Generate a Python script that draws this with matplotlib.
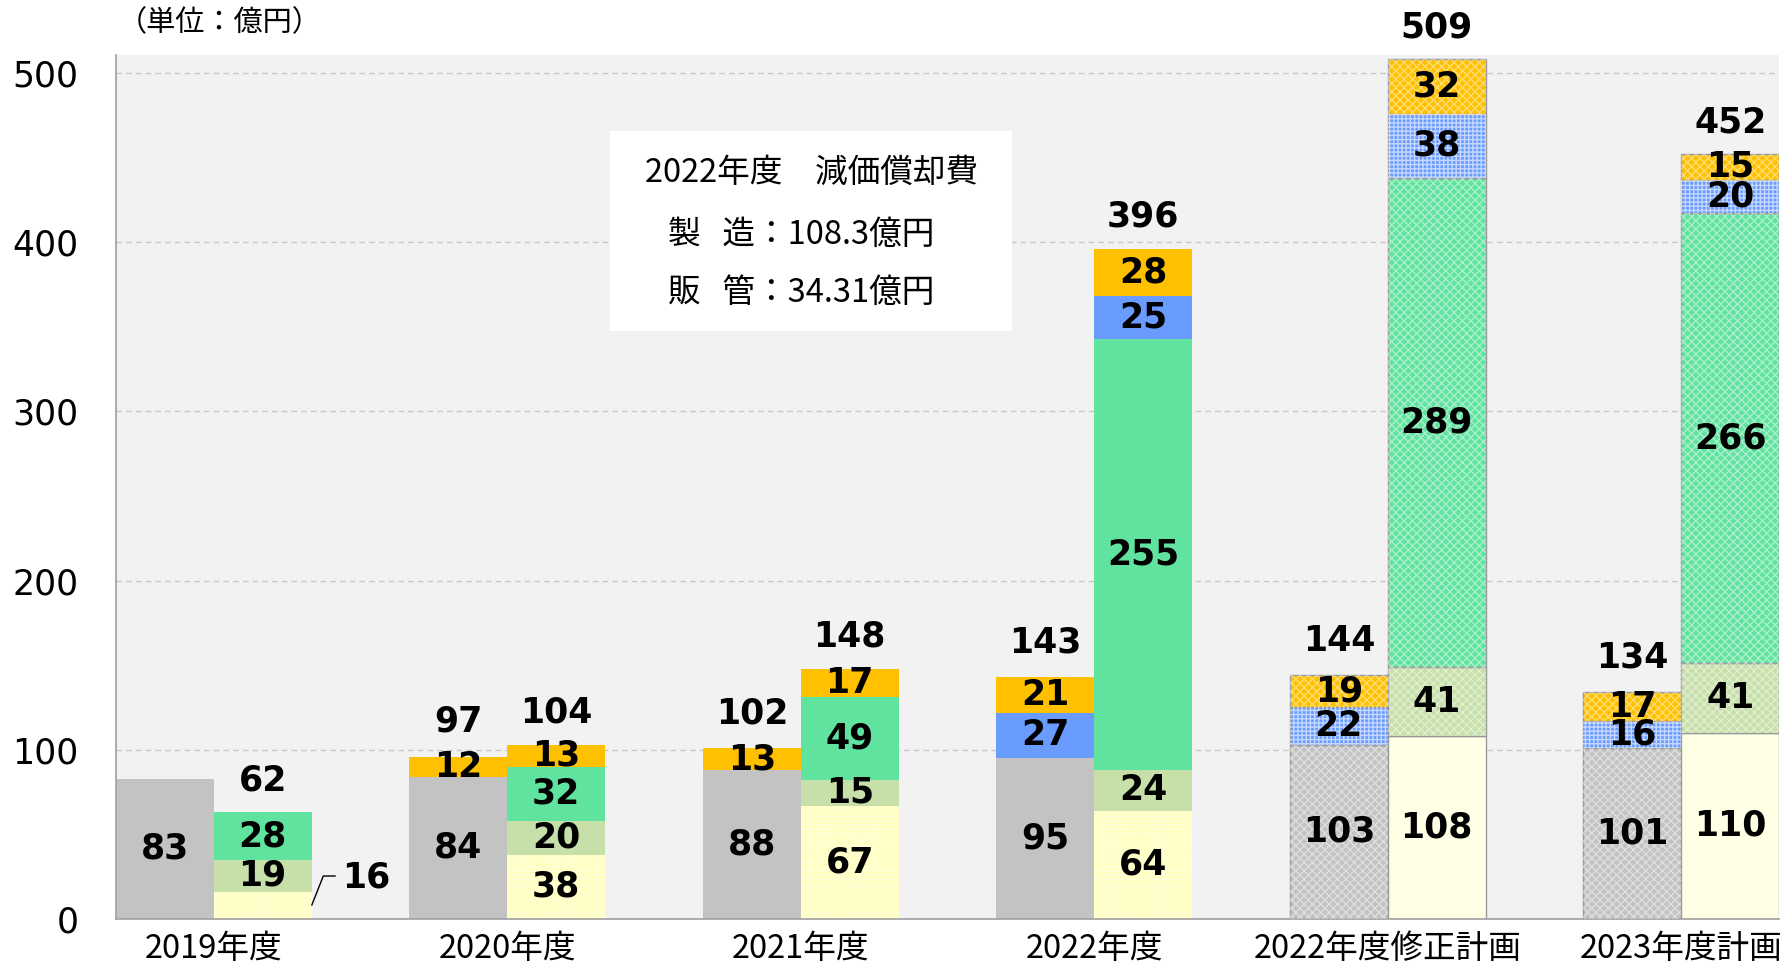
import matplotlib
matplotlib.use("Agg")
import matplotlib.pyplot as plt
from matplotlib.patches import Rectangle
import numpy as np

plt.rcParams['font.family'] = ['DejaVu Sans', 'Noto Sans CJK JP']
plt.rcParams['hatch.linewidth'] = 1.0

# Data (億円)
years = ['2019年度', '2020年度', '2021年度', '2022年度', '2022年度修正計画', '2023年度計画']
is_plan = [False, False, False, False, True, True]

# left bar
left_gray = [83, 84, 88, 95, 103, 101]
left_blue = [0, 0, 0, 27, 22, 16]
left_orange = [0, 12, 13, 21, 19, 17]
left_total = [None, 97, 102, 143, 144, 134]

# right bar
right_yellow = [16, 38, 67, 64, 108, 110]
right_lgreen = [19, 20, 15, 24, 41, 41]
right_green = [28, 32, 49, 255, 289, 266]
right_blue = [0, 0, 0, 25, 38, 20]
right_orange = [0, 13, 17, 28, 32, 15]
right_total = [62, 104, 148, 396, 509, 452]

box_lines = ['2022年度　減価償却費', '製   造：108.3億円', '販   管：34.31億円']

GRAY = '#c3c3c3'
BLUE = '#6a9cff'
ORANGE = '#ffc000'
GREEN = '#61e3a0'
LGREEN = '#c7e0a9'
YELLOW = '#ffffc2'
YELLOW_PLAN = '#ffffe6'

W = 1 / 3
x = np.arange(len(years))

fig = plt.figure(figsize=(17.9, 9.63), dpi=100)
ax = fig.add_axes([0.0648, 0.0457, 0.9291, 0.8972])
ax.set_facecolor('#f2f2f2')


def draw_stack(xpos, series, skip_label=()):
    bottom = np.zeros(len(xpos))
    for k, (vals, color) in enumerate(series):
        vals = np.array(vals, dtype=float)
        for i in range(len(xpos)):
            v = vals[i]
            if v <= 0:
                continue
            fc = color
            if color == YELLOW and is_plan[i]:
                fc = YELLOW_PLAN
            ax.bar(xpos[i], v, W, bottom=bottom[i], color=fc,
                   edgecolor='#9a9a9a' if is_plan[i] else 'none',
                   linewidth=1.0 if is_plan[i] else 0, zorder=2)
            # texture
            hatch = None
            alpha = 0.45
            if color == BLUE and is_plan[i]:
                hatch = '++++'
                alpha = 0.6
            elif color == YELLOW and not is_plan[i]:
                hatch = '....'
                alpha = 0.6
            elif is_plan[i] and color != YELLOW:
                hatch = 'xxxx'
            if hatch:
                ax.bar(xpos[i], v, W, bottom=bottom[i], facecolor='none',
                       edgecolor=(1, 1, 1, alpha), linewidth=0, hatch=hatch, zorder=3)
            if (k, i) not in skip_label:
                ax.text(xpos[i], bottom[i] + v / 2, f'{int(v)}', ha='center', va='center',
                        fontsize=25, fontweight='bold', zorder=6)
        bottom += vals
    return bottom


lx = x - W / 2
rx = x + W / 2
ltop = draw_stack(lx, [(left_gray, GRAY), (left_blue, BLUE), (left_orange, ORANGE)])
rtop = draw_stack(rx, [(right_yellow, YELLOW), (right_lgreen, LGREEN), (right_green, GREEN),
                       (right_blue, BLUE), (right_orange, ORANGE)], skip_label=[(0, 0)])

for i in range(len(x)):
    if left_total[i] is not None:
        ax.annotate(f'{left_total[i]}', (lx[i], ltop[i]), xytext=(0, 25), textcoords='offset points',
                    ha='center', va='center', fontsize=25, fontweight='bold', annotation_clip=False)
    ax.annotate(f'{right_total[i]}', (rx[i], rtop[i]), xytext=(0, 23), textcoords='offset points',
                ha='center', va='center', fontsize=25, fontweight='bold', annotation_clip=False)

# 2019 small segment label with leader line
ax.plot([0.334, 0.373, 0.413], [8.3, 25.4, 25.4], color='black', lw=1, zorder=4)
ax.text(0.521, 24.7, f'{right_yellow[0]}', ha='center', va='center', fontsize=25, fontweight='bold')

ax.set_xlim(-1 / 3, len(years) - 1 + 1 / 3)
ax.set_ylim(0, 510.6)
ax.set_yticks([0, 100, 200, 300, 400, 500])
ax.set_xticks(x)
ax.set_xticklabels(years, family=['Noto Sans CJK JP'], fontsize=23.5)
ax.tick_params(axis='y', length=0, pad=27, labelsize=25)
ax.tick_params(axis='x', length=0, pad=10)
ax.grid(axis='y', color='#c8c8c8', linestyle=(0, (4, 3)), linewidth=1)
ax.set_axisbelow(True)
for s in ['top', 'right']:
    ax.spines[s].set_visible(False)
for s in ['left', 'bottom']:
    ax.spines[s].set_color('#a0a0a0')
    ax.spines[s].set_linewidth(1.2)

# text box
ax.add_patch(Rectangle((0.297, 0.681), 0.242, 0.231, transform=ax.transAxes,
                       facecolor='white', edgecolor='none', zorder=5))
ax.text(0.418, 0.863, box_lines[0], transform=ax.transAxes, ha='center', va='center',
        family=['Noto Sans CJK JP'], fontsize=23.5, zorder=6)
ax.text(0.332, 0.792, box_lines[1], transform=ax.transAxes, ha='left', va='center',
        family=['Noto Sans CJK JP'], fontsize=23.5, zorder=6)
ax.text(0.332, 0.725, box_lines[2], transform=ax.transAxes, ha='left', va='center',
        family=['Noto Sans CJK JP'], fontsize=23.5, zorder=6)

fig.text(0.123, 0.976, '（単位：億円）', ha='center', va='center',
         family=['Noto Sans CJK JP'], fontsize=21)

fig.savefig('out.png', dpi=100)
